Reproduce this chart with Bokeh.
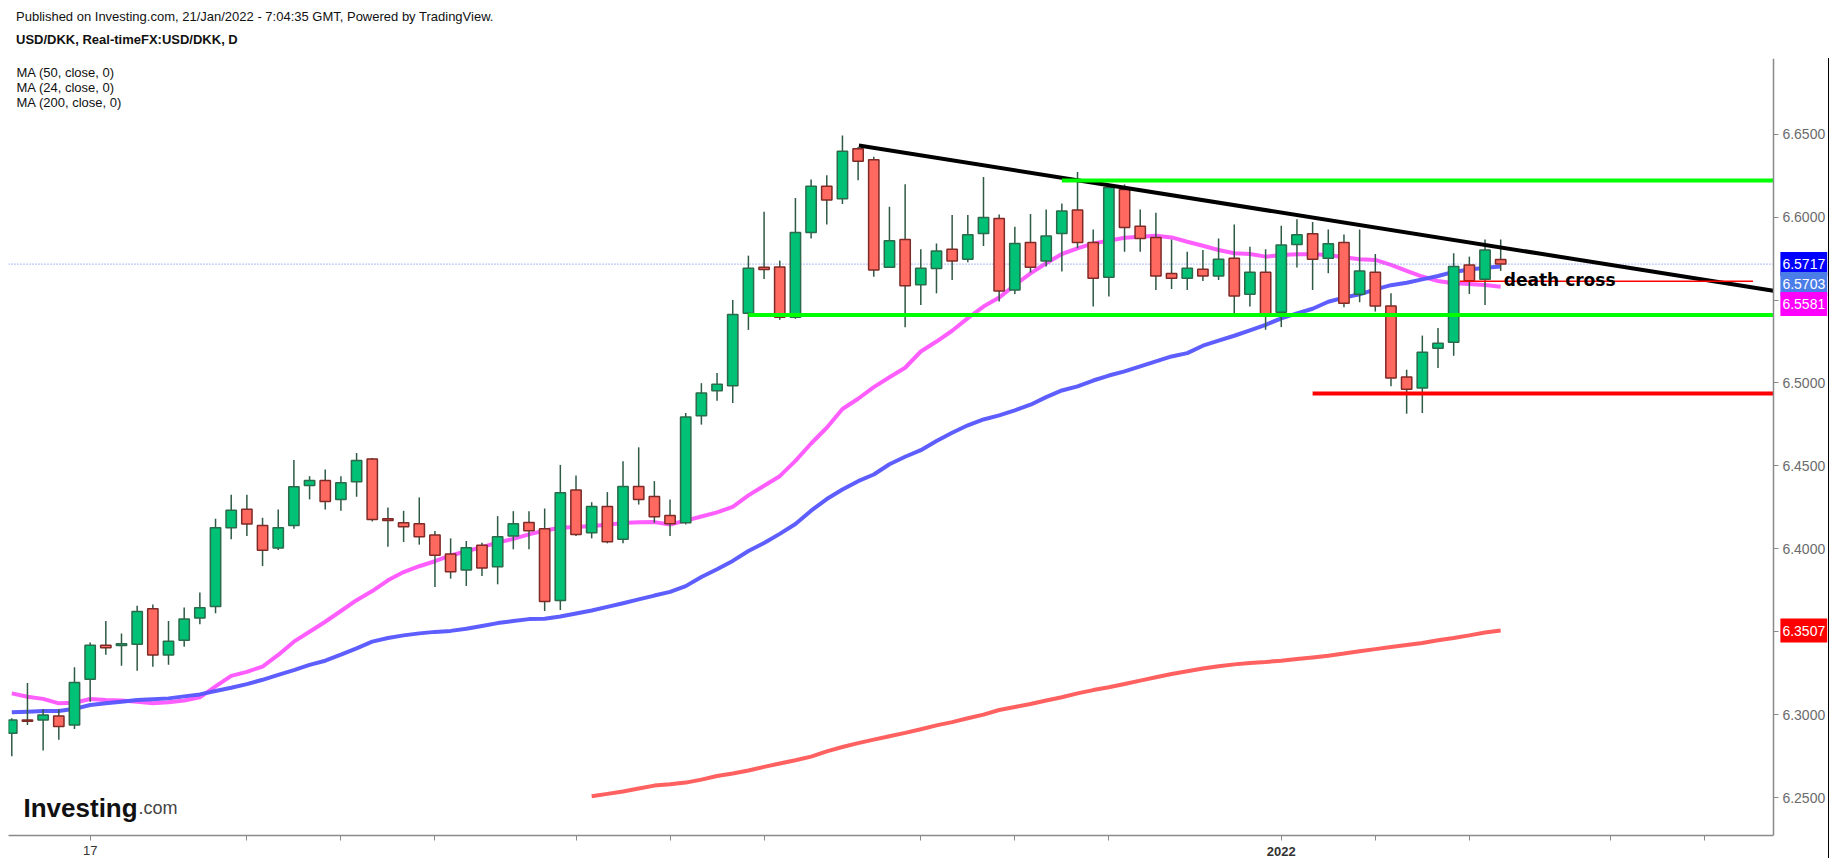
import numpy as np
from bokeh.plotting import figure
from bokeh.models import (Range1d, FixedTicker, NumeralTickFormatter, Label, LinearAxis, Div)
from bokeh.layouts import column
from bokeh.embed import file_html
from bokeh.resources import INLINE

# ---------------- data ----------------
opens = [6.2888, 6.2968, 6.2968, 6.2992, 6.2938, 6.3214, 6.3419, 6.3417, 6.3425, 6.3638,
         6.3359, 6.3449, 6.3583, 6.3652, 6.4127, 6.4239, 6.4141, 6.4005, 6.4141, 6.4382,
         6.4412, 6.4298, 6.4404, 6.4542, 6.4181, 6.4157, 6.4151, 6.4083, 6.3969, 6.3872,
         6.4021, 6.3892, 6.4077, 6.4159, 6.4121, 6.3688, 6.4354, 6.4097, 6.4255, 6.4057,
         6.4376, 6.4316, 6.4201, 6.4157, 6.4803, 6.4953, 6.4983, 6.5421, 6.5698, 6.5700,
         6.5397, 6.5908, 6.6187, 6.6111, 6.6412, 6.6347, 6.5698, 6.5866, 6.5593, 6.5690,
         6.5806, 6.5746, 6.5902, 6.5992, 6.5561, 6.5848, 6.5736, 6.5902, 6.6043, 6.5848,
         6.5637, 6.6167, 6.5946, 6.5878, 6.5661, 6.5631, 6.5686, 6.5645, 6.5752, 6.5535,
         6.5668, 6.5427, 6.5836, 6.5900, 6.5752, 6.5848, 6.5535, 6.5668, 6.5465, 6.5036,
         6.4970, 6.5210, 6.5246, 6.5712, 6.5625, 6.5745]
highs = [6.2978, 6.3190, 6.3032, 6.3032, 6.3285, 6.3435, 6.3565, 6.3489, 6.3656, 6.3664,
         6.3565, 6.3646, 6.3736, 6.4181, 6.4326, 6.4326, 6.4187, 6.4237, 6.4536, 6.4438,
         6.4478, 6.4438, 6.4578, 6.4548, 6.4249, 6.4229, 6.4310, 6.4107, 6.4063, 6.4047,
         6.4037, 6.4197, 6.4227, 6.4227, 6.4243, 6.4506, 6.4442, 6.4281, 6.4342, 6.4528,
         6.4612, 6.4408, 6.4297, 6.4819, 6.4999, 6.5060, 6.5501, 6.5768, 6.6033, 6.5738,
         6.6115, 6.6227, 6.6253, 6.6492, 6.6424, 6.6364, 6.6063, 6.6199, 6.5806, 6.5842,
         6.6013, 6.6013, 6.6243, 6.6016, 6.5942, 6.6019, 6.6047, 6.6083, 6.6273, 6.5926,
         6.6197, 6.6197, 6.6047, 6.6027, 6.5866, 6.5792, 6.5802, 6.5872, 6.5956, 6.5822,
         6.5806, 6.5948, 6.5987, 6.5971, 6.5926, 6.5896, 6.5926, 6.5778, 6.5541, 6.5080,
         6.5286, 6.5331, 6.5782, 6.5762, 6.5866, 6.5866]
lows = [6.2749, 6.2938, 6.2783, 6.2849, 6.2913, 6.3078, 6.3361, 6.3295, 6.3264, 6.3289,
        6.3301, 6.3409, 6.3545, 6.3612, 6.4057, 6.4077, 6.3896, 6.3993, 6.4121, 6.4298,
        6.4237, 6.4229, 6.4314, 6.4165, 6.4013, 6.4041, 6.4025, 6.3770, 6.3820, 6.3776,
        6.3836, 6.3786, 6.3997, 6.3997, 6.3625, 6.3631, 6.4077, 6.4063, 6.4033, 6.4033,
        6.4267, 6.4157, 6.4077, 6.4147, 6.4749, 6.4893, 6.4879, 6.5320, 6.5627, 6.5381,
        6.5387, 6.5872, 6.5956, 6.6079, 6.6223, 6.5641, 6.5694, 6.5336, 6.5471, 6.5541,
        6.5621, 6.5728, 6.5826, 6.5491, 6.5537, 6.5666, 6.5702, 6.5672, 6.5812, 6.5461,
        6.5521, 6.5792, 6.5792, 6.5561, 6.5567, 6.5561, 6.5615, 6.5621, 6.5401, 6.5461,
        6.5321, 6.5337, 6.5696, 6.5561, 6.5662, 6.5457, 6.5487, 6.5431, 6.4980, 6.4815,
        6.4819, 6.5090, 6.5164, 6.5537, 6.5471, 6.5676]
closes = [6.2968, 6.2960, 6.2998, 6.2929, 6.3194, 6.3419, 6.3403, 6.3427, 6.3622, 6.3359,
          6.3443, 6.3577, 6.3644, 6.4127, 6.4233, 6.4149, 6.3991, 6.4127, 6.4374, 6.4412,
          6.4286, 6.4398, 6.4532, 6.4177, 6.4171, 6.4133, 6.4073, 6.3961, 6.3862, 6.4007,
          6.3884, 6.4073, 6.4151, 6.4109, 6.3682, 6.4338, 6.4087, 6.4255, 6.4043, 6.4376,
          6.4297, 6.4193, 6.4151, 6.4795, 6.4939, 6.4993, 6.5413, 6.5692, 6.5684, 6.5397,
          6.5908, 6.6187, 6.6103, 6.6398, 6.6337, 6.5682, 6.5858, 6.5587, 6.5692, 6.5796,
          6.5736, 6.5894, 6.5998, 6.5555, 6.5842, 6.5698, 6.5886, 6.6037, 6.5848, 6.5631,
          6.6179, 6.5938, 6.5872, 6.5645, 6.5631, 6.5692, 6.5645, 6.5746, 6.5525, 6.5668,
          6.5405, 6.5832, 6.5894, 6.5746, 6.5840, 6.5481, 6.5676, 6.5465, 6.5030, 6.4963,
          6.5186, 6.5240, 6.5702, 6.5617, 6.5802, 6.5717]

ma24 = [6.3128, 6.3108, 6.3095, 6.3068, 6.3072, 6.3094, 6.3088, 6.3085, 6.3078, 6.3068,
        6.3074, 6.3085, 6.3104, 6.3170, 6.3234, 6.3258, 6.3290, 6.3360, 6.3440, 6.3500,
        6.3560, 6.3625, 6.3690, 6.3745, 6.3810, 6.3860, 6.3895, 6.3925, 6.3960, 6.3985,
        6.4010, 6.4037, 6.4060, 6.4087, 6.4110, 6.4127, 6.4132, 6.4137, 6.4145, 6.4155,
        6.4160, 6.4161, 6.4147, 6.4170, 6.4195, 6.4220, 6.4253, 6.4322, 6.4380, 6.4438,
        6.4530, 6.4635, 6.4730, 6.4843, 6.4905, 6.4975, 6.5035, 6.5092, 6.5190, 6.5250,
        6.5315, 6.5391, 6.5461, 6.5515, 6.5591, 6.5661, 6.5722, 6.5778, 6.5812, 6.5842,
        6.5858, 6.5876, 6.5882, 6.5888, 6.5878, 6.5852, 6.5828, 6.5802, 6.5782, 6.5778,
        6.5762, 6.5772, 6.5776, 6.5776, 6.5772, 6.5758, 6.5746, 6.5742, 6.5712, 6.5676,
        6.5642, 6.5615, 6.5601, 6.5597, 6.5591, 6.5581]
ma50 = [6.3014, 6.3018, 6.3022, 6.3022, 6.3035, 6.3058, 6.3068, 6.3078, 6.3088, 6.3093,
        6.3098, 6.3110, 6.3122, 6.3142, 6.3162, 6.3184, 6.3210, 6.3240, 6.3268, 6.3300,
        6.3325, 6.3362, 6.3400, 6.3440, 6.3462, 6.3478, 6.3490, 6.3499, 6.3505, 6.3518,
        6.3535, 6.3552, 6.3565, 6.3576, 6.3578, 6.3592, 6.3610, 6.3628, 6.3650, 6.3672,
        6.3695, 6.3718, 6.3740, 6.3775, 6.3830, 6.3877, 6.3927, 6.3987, 6.4035, 6.4090,
        6.4150, 6.4230, 6.4300, 6.4358, 6.4408, 6.4448, 6.4510, 6.4555, 6.4595, 6.4650,
        6.4700, 6.4745, 6.4780, 6.4805, 6.4835, 6.4869, 6.4915, 6.4955, 6.4980, 6.5015,
        6.5045, 6.5070, 6.5100, 6.5130, 6.5160, 6.5180, 6.5225, 6.5255, 6.5285, 6.5318,
        6.5351, 6.5390, 6.5420, 6.5448, 6.5490, 6.5515, 6.5535, 6.5565, 6.5590, 6.5605,
        6.5625, 6.5645, 6.5670, 6.5685, 6.5695, 6.5703]
ma200_first = 37
ma200 = [6.2508, 6.2522, 6.2536, 6.2554, 6.2572, 6.2580, 6.2590, 6.2608, 6.2630, 6.2645,
         6.2663, 6.2685, 6.2705, 6.2725, 6.2747, 6.2778, 6.2805, 6.2828, 6.2849, 6.2870,
         6.2890, 6.2912, 6.2935, 6.2955, 6.2978, 6.3000, 6.3028, 6.3046, 6.3064, 6.3085,
         6.3105, 6.3128, 6.3148, 6.3165, 6.3185, 6.3205, 6.3225, 6.3245, 6.3262, 6.3278,
         6.3292, 6.3303, 6.3312, 6.3318, 6.3325, 6.3335, 6.3345, 6.3355, 6.3368, 6.3382,
         6.3395, 6.3408, 6.3420, 6.3432, 6.3448, 6.3462, 6.3478, 6.3495, 6.3507]

last_price = 6.5717

# drawings (bar index, price)
trend_start = (54.05, 6.6432)
trend_slope = -0.0015
resist_start, resist_level = 67.0, 6.6221
support_start, support_level = 47.0, 6.5410
low_start, low_level = 83.0, 6.4936
cross_start, cross_end, cross_level = 92.4, 111.1, 6.5613

x_tick_idx = [5, 15, 21, 27, 36, 42, 48, 58, 64, 70, 81, 87, 93, 102, 108]
x_tick_labels = {5: "17", 81: "2022"}
year_tick = 81
y_ticks = [6.25, 6.30, 6.35, 6.40, 6.45, 6.50, 6.55, 6.60, 6.65]

# ---------------- layout ----------------
FONT = "Liberation Sans"
W = 1829
FRAME_H = 779
X0, XA, X1 = -0.21, 112.40, 115.98     # left edge, price-axis position, right edge
Y0, Y1 = 6.2271, 6.6957

header = Div(width=W, height=58, margin=0, text=(
    '<div style="position:relative;width:1829px;height:58px;font-family:\'Liberation Sans\',Arial;'
    'font-size:13px;color:#111;white-space:nowrap">'
    '<div style="position:absolute;left:16px;top:9px;line-height:15px">'
    'Published on Investing.com, 21/Jan/2022 - 7:04:35 GMT, Powered by TradingView.</div>'
    '<div style="position:absolute;left:16px;top:32px;line-height:15px;font-weight:bold">'
    'USD/DKK, Real-timeFX:USD/DKK, D</div></div>'))

p = figure(width=W, height=FRAME_H + 21, output_backend="svg", toolbar_location=None,
           x_range=Range1d(X0, X1), y_range=Range1d(Y0, Y1),
           y_axis_location="right", title=None,
           min_border_left=8, min_border_right=0, min_border_top=0, min_border_bottom=21)
p.styles = {"border-right": "1px solid black"}
p.background_fill_color = "white"
p.border_fill_color = "white"
p.outline_line_color = None
p.xgrid.visible = False
p.ygrid.visible = False

ax_col = "#8a8a8a"

def style_axis(ax):
    ax.axis_line_color = ax_col
    ax.axis_line_width = 1.5
    ax.major_tick_line_color = ax_col
    ax.major_tick_out = 5
    ax.major_tick_in = 0
    ax.minor_tick_line_color = None
    ax.major_label_text_font = FONT

# price axis (drawn at the right edge of the bar area)
ya = p.yaxis[0]
style_axis(ya)
ya.fixed_location = XA
ya.ticker = FixedTicker(ticks=y_ticks)
ya.formatter = NumeralTickFormatter(format="0.0000")
ya.major_label_text_font_size = "14px"
ya.major_label_text_color = "#6b6b6b"
ya.major_label_standoff = 4

# time axis
xa = p.xaxis[0]
style_axis(xa)
xa.bounds = (X0, XA)
xa.ticker = FixedTicker(ticks=x_tick_idx)
xa.major_label_overrides = {t: (x_tick_labels.get(t, "") if t != year_tick else "")
                            for t in x_tick_idx}
xa.major_label_text_font_size = "13px"
xa.major_label_text_color = "#333"
xa.major_label_standoff = 5

# year label (bold) on a second, zero-height time axis
xa2 = LinearAxis(ticker=FixedTicker(ticks=[year_tick]),
                 major_label_overrides={year_tick: x_tick_labels[year_tick]})
style_axis(xa2)
xa2.axis_line_color = None
xa2.major_tick_line_color = None
xa2.major_tick_out = 0
xa2.major_label_text_font_size = "13px"
xa2.major_label_text_font_style = "bold"
xa2.major_label_text_color = "#333"
xa2.major_label_standoff = -11
p.add_layout(xa2, "below")

idx = np.arange(len(closes))
o = np.array(opens); c = np.array(closes); h = np.array(highs); l = np.array(lows)
up = c >= o

# moving averages (behind candles)
p.line(idx, ma24, line_color="#ff55ff", line_width=4, line_alpha=0.95)
p.line(idx, ma50, line_color="#5555ff", line_width=4, line_alpha=0.95)
p.line(np.arange(ma200_first, ma200_first + len(ma200)), ma200,
       line_color="#ff5858", line_width=4, line_alpha=0.95)

# current price dotted line
p.line([X0, XA], [last_price, last_price], line_color="#5577e8", line_width=1, line_dash="1 2")

# candles
wick_col = "#2f5a45"
p.segment(idx, h, idx, l, line_color=wick_col, line_width=1.5)
p.vbar(x=idx[up], top=c[up], bottom=o[up], width=0.66, fill_color="#00c176",
       line_color="#2b6a4a", line_width=1.5)
p.vbar(x=idx[~up], top=o[~up], bottom=c[~up], width=0.66, fill_color="#ff6960",
       line_color="#7e2a26", line_width=1.5)

# drawings
tx = [trend_start[0], XA]
ty = [trend_start[1], trend_start[1] + trend_slope * (XA - trend_start[0])]
p.line(tx, ty, line_color="black", line_width=4)
p.line([resist_start, XA], [resist_level, resist_level], line_color="#00ff00", line_width=4)
p.line([support_start, XA], [support_level, support_level], line_color="#00ff00", line_width=4)
p.line([low_start, XA], [low_level, low_level], line_color="#ff0000", line_width=4)
p.line([cross_start, cross_end], [cross_level, cross_level], line_color="#ff0000", line_width=1.5)
p.add_layout(Label(x=95.2, y=cross_level, text="death cross", text_font="DejaVu Sans",
                   text_font_style="bold", text_font_size="17px", text_color="black",
                   text_baseline="alphabetic", text_align="left", y_offset=1))

# indicator legend
for k, t in enumerate(["MA (50, close, 0)", "MA (24, close, 0)", "MA (200, close, 0)"]):
    p.add_layout(Label(x=8, y=FRAME_H - 16 - 15 * k, x_units="screen", y_units="screen", text=t,
                       text_font=FONT, text_font_size="13px", text_color="#111",
                       text_baseline="middle"))

# logo
p.add_layout(Label(x=15, y=28, x_units="screen", y_units="screen", text="Investing",
                   text_font=FONT, text_font_style="bold",
                   text_font_size="26px", text_color="#111", text_baseline="alphabetic"))
p.add_layout(Label(x=130, y=28, x_units="screen", y_units="screen", text=".com",
                   text_font=FONT, text_font_size="18px",
                   text_color="#444", text_baseline="alphabetic"))

# price labels on the price axis, stacked so they do not overlap
price_labels = [(last_price, "#0000ff"), (ma50[-1], "#4a7de8"), (ma24[-1], "#ff00ff"),
                (ma200[-1], "#ff0000")]
px_per_unit = FRAME_H / (Y1 - Y0)
prev = None
for val, col in sorted(price_labels, key=lambda t: -t[0]):
    ypos = val if prev is None else min(val, prev - 20 / px_per_unit)
    prev = ypos
    p.add_layout(Label(x=XA, y=ypos, text=f"{val:.4f}", text_font=FONT,
                       text_font_size="14px", text_color="white", text_align="left",
                       text_baseline="middle", background_fill_color=col,
                       padding=(2, 7), x_offset=7))

html = file_html(column(header, p), INLINE)
open("out.html", "w").write(html)
